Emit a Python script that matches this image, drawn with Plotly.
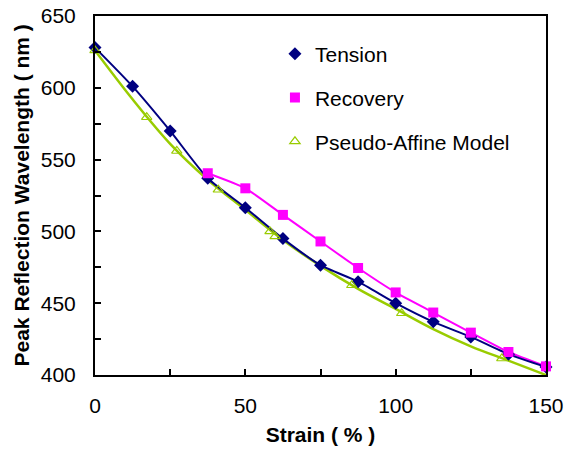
import plotly.graph_objects as go

# Tension (measured)
tension_strain = [0, 12.5, 25, 37.5, 50, 62.5, 75, 87.5, 100, 112.5, 125, 137.5, 150]
tension_nm = [628, 601, 570, 537, 516.5, 495, 476.5, 465, 450, 437, 426.5, 414.5, 405.5]

# Recovery (measured)
recovery_strain = [37.5, 50, 62.5, 75, 87.5, 100, 112.5, 125, 137.5, 150]
recovery_nm = [540.5, 530, 511.5, 493, 474.5, 457.5, 443.5, 429.5, 416, 406]

# Pseudo-affine model points (triangles)
model_pts_strain = [0, 17.2, 27.2, 41, 58.2, 59.9, 85.4, 102, 135.3]
model_pts_nm = [626, 579.5, 556, 529, 500, 496.5, 462.5, 443, 411.5]

# Pseudo-affine model curve
model_curve_strain = [0, 12.5, 25, 37.5, 50, 62.5, 75, 87.5, 100, 112.5, 125, 137.5, 150]
model_curve_nm = [626, 592, 561, 536, 515, 494, 476, 460, 446, 432, 420, 410, 400]

NAVY = "#000080"
MAGENTA = "#FF00FF"
GREEN = "#99CC00"
FONT = "Liberation Sans, Arial, sans-serif"

fig = go.Figure()

# lines (not in legend)
fig.add_trace(go.Scatter(x=model_curve_strain, y=model_curve_nm, mode="lines",
                         line=dict(color=GREEN, width=2.5, shape="spline"),
                         showlegend=False, hoverinfo="skip", cliponaxis=False))
fig.add_trace(go.Scatter(x=recovery_strain, y=recovery_nm, mode="lines",
                         line=dict(color=MAGENTA, width=2, shape="spline", smoothing=0.6),
                         showlegend=False, hoverinfo="skip", cliponaxis=False))
fig.add_trace(go.Scatter(x=tension_strain, y=tension_nm, mode="lines",
                         line=dict(color=NAVY, width=2, shape="spline", smoothing=0.6),
                         showlegend=False, hoverinfo="skip", cliponaxis=False))

# markers (legend)
fig.add_trace(go.Scatter(x=tension_strain, y=tension_nm, mode="markers", name="Tension",
                         legendgroup="a",
                         marker=dict(symbol="diamond", size=10, color=NAVY,
                                     line=dict(width=0)), cliponaxis=False))
fig.add_trace(go.Scatter(x=recovery_strain, y=recovery_nm, mode="markers", name="Recovery",
                         legendgroup="b",
                         marker=dict(symbol="square", size=10, color=MAGENTA,
                                     line=dict(width=0)), cliponaxis=False))
fig.add_trace(go.Scatter(x=model_pts_strain, y=model_pts_nm, mode="markers",
                         name="Pseudo-Affine Model", legendgroup="c",
                         marker=dict(symbol="triangle-up-open", size=9, color=GREEN,
                                     line=dict(width=1.2, color=GREEN)), cliponaxis=False))

axis_common = dict(showline=True, linecolor="black", linewidth=2, mirror=True,
                   ticks="inside", ticklen=6, tickwidth=2, tickcolor="black",
                   showgrid=False, zeroline=False, automargin=False,
                   ticklabeloverflow="allow",
                   tickfont=dict(family=FONT, size=21, color="black"))

fig.update_layout(
    width=565, height=449,
    margin=dict(l=95, r=19, t=16, b=74),
    paper_bgcolor="white", plot_bgcolor="white",
    font=dict(family=FONT, color="black"),
    xaxis=dict(range=[0, 150], dtick=50, tick0=0, ticklabelstandoff=11,
               minor=dict(dtick=25, ticks="inside", ticklen=6, tickwidth=2, tickcolor="black"),
               title=dict(text="<b>Strain ( % )</b>", font=dict(family=FONT, size=21), standoff=11),
               **axis_common),
    yaxis=dict(range=[400, 650], dtick=50, tick0=400, ticklabelstandoff=13,
               minor=dict(dtick=25, ticks="inside", ticklen=6, tickwidth=2, tickcolor="black"),
               **axis_common),
    legend=dict(x=0.399, y=0.951, xanchor="left", yanchor="top",
                bgcolor="rgba(0,0,0,0)", borderwidth=0,
                font=dict(family=FONT, size=21, color="black"),
                tracegroupgap=13.5),
    showlegend=True,
    annotations=[dict(text="<b>Peak Reflection Wavelength ( nm )</b>",
                      xref="paper", yref="paper", x=0, y=0.5,
                      xanchor="center", yanchor="middle", xshift=-74,
                      textangle=-90, showarrow=False,
                      font=dict(family=FONT, size=21, color="black"))],
)

fig.write_html("out.html", config={"displayModeBar": False},
               post_script="document.body.style.margin='0';document.body.style.overflow='hidden';")
